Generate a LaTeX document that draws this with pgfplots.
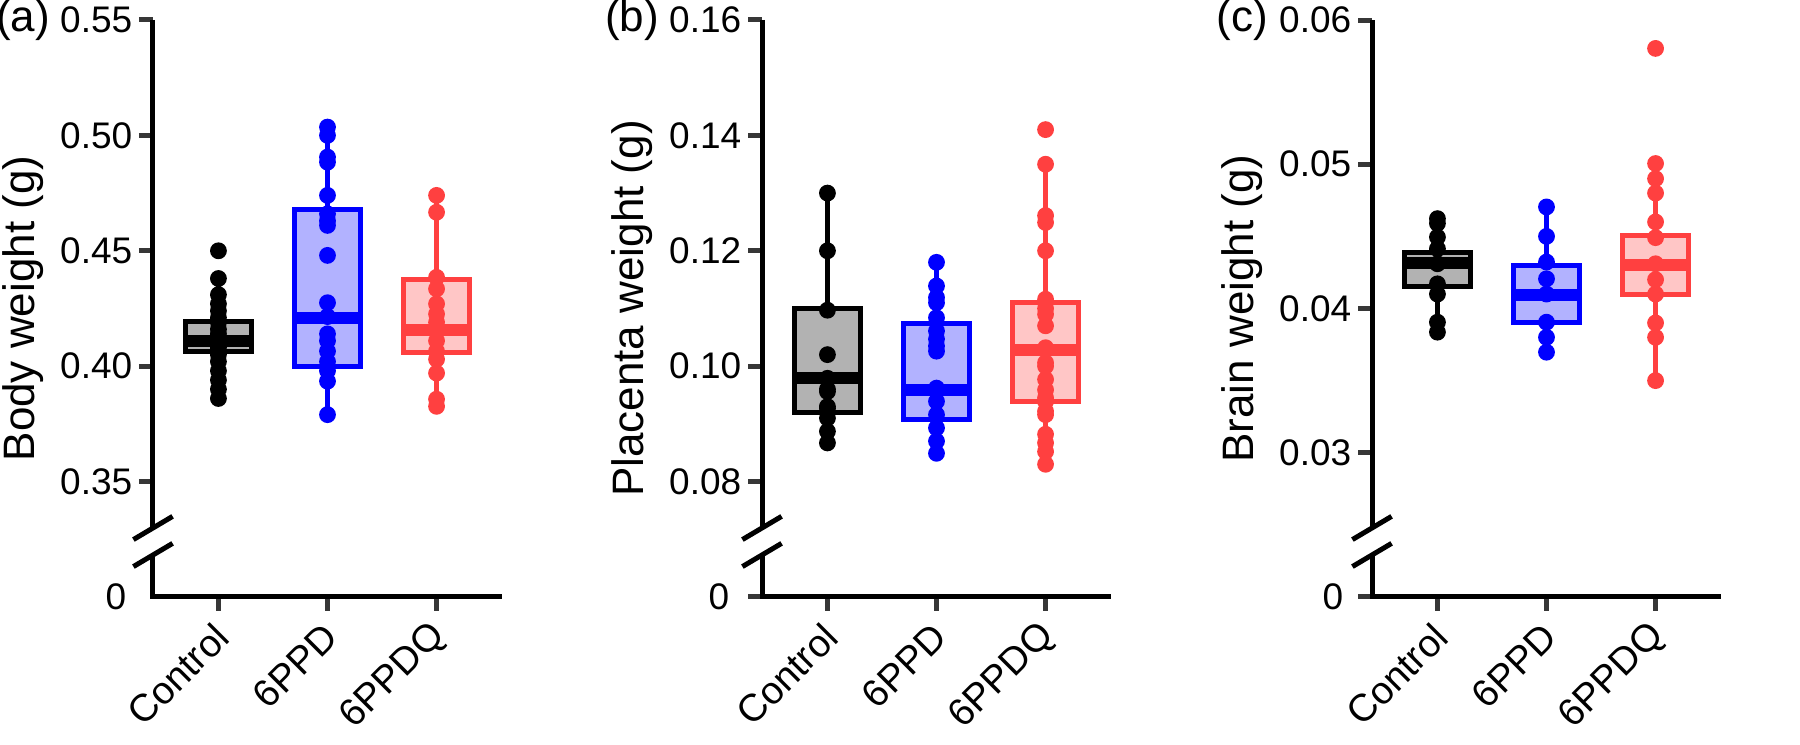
\documentclass[border=0pt]{standalone}
\usepackage{fontspec}
\setmainfont{Liberation Sans}
\usepackage{pgfplots}
\pgfplotsset{compat=1.18}
\definecolor{cblk}{RGB}{0,0,0}
\definecolor{cblu}{RGB}{0,0,255}
\definecolor{cred}{RGB}{255,64,64}
\definecolor{tickc}{RGB}{55,55,55}

\pgfplotsset{
 panel/.style={
  scale only axis, width=87.25pt, height=144.25pt,
  xmin=0.4, xmax=3.6,
  axis x line*=bottom, axis y line*=left,
  axis line style={draw=none},
  tick align=outside, major tick length=3.5pt,
  every tick/.style={line width=1.25pt, tickc},
  scaled y ticks=false,
  xtick={1,2,3}, xticklabels={Control,6PPD,6PPDQ},
  xticklabel style={rotate=45, anchor=east, xshift=0.6pt, yshift=-4pt, font=\fontsize{9.6}{11}\selectfont},
  yticklabel style={inner sep=1.5pt, font=\fontsize{9.25}{11}\selectfont},
  every axis y label/.style={at={([xshift=-32.5pt]axis description cs:0,0.5)}, rotate=90, anchor=center, font=\fontsize{11}{13}\selectfont},
  clip=false,
 },
 pts/.style={only marks, mark=*, mark size=1.9pt, color=#1, mark options={fill=#1, draw=#1}},
}
% box: #1 left, #2 centre, #3 right, #4 colour, #5 low whisker, #6 Q1, #7 median, #8 Q3, #9 high whisker
\newcommand{\bxp}[9]{%
 \addplot[draw=#4, line width=1.25pt] coordinates {(#2,#5)(#2,#6)};
 \addplot[draw=#4, line width=1.25pt] coordinates {(#2,#8)(#2,#9)};
 \addplot[draw=#4, fill=#4!30, line width=1.25pt] coordinates {(#1,#6)(#3,#6)(#3,#8)(#1,#8)} -- cycle;
 \addplot[draw=#4, line width=3pt] coordinates {(#1,#7)(#3,#7)};
}
\newcommand{\brk}[1]{%
 \draw[line width=1.25pt] (axis description cs:0,1) -- (axis description cs:0,0.1196);
 \draw[line width=1.25pt] (axis description cs:0,0.0728) -- (axis description cs:0,0) -- (axis description cs:1,0);
 \draw[line width=1.25pt] ([xshift=-4.9pt,yshift=-2.9pt]axis description cs:0,0.1196) -- ([xshift=4.9pt,yshift=2.9pt]axis description cs:0,0.1196);
 \draw[line width=1.25pt] ([xshift=-4.9pt,yshift=-2.9pt]axis description cs:0,0.0728) -- ([xshift=4.9pt,yshift=2.9pt]axis description cs:0,0.0728);
 \node[font=\fontsize{11}{13}\selectfont, anchor=center] at ([xshift=-32.5pt]axis description cs:0,1) {(#1)};
}

\begin{document}
\begin{tikzpicture}
\useasboundingbox (-38.25pt,-37pt) rectangle (411.75pt,149.25pt);

% ---------------- (a) Body weight ----------------
\begin{axis}[panel, at={(0pt,0pt)}, anchor=south west,
  ymin=0.30, ymax=0.55,
  ytick={0.35,0.40,0.45,0.50,0.55},
  yticklabels={0.35,0.40,0.45,0.50,0.55},
  extra y ticks={0.30}, extra y tick labels={0},
  extra y tick style={major tick length=0pt, yticklabel style={xshift=-5pt}},
  ylabel={Body weight (g)}]
\bxp{0.7}{1}{1.3}{cblk}{0.390}{0.4065}{0.411}{0.4193}{0.438}
\bxp{1.7}{2}{2.3}{cblu}{0.379}{0.400}{0.421}{0.468}{0.504}
\bxp{2.7}{3}{3.3}{cred}{0.3826}{0.406}{0.4157}{0.4377}{0.474}
\addplot[pts=cblk] coordinates {(1,0.450)(1,0.438)(1,0.431)(1,0.427)(1,0.424)(1,0.421)(1,0.419)(1,0.416)(1,0.414)(1,0.412)(1,0.410)(1,0.408)(1,0.405)(1,0.402)(1,0.398)(1,0.394)(1,0.390)(1,0.386)};
\addplot[pts=cblu] coordinates {(2,0.5036)(2,0.500)(2,0.4906)(2,0.4884)(2,0.474)(2,0.466)(2,0.463)(2,0.461)(2,0.448)(2,0.4275)(2,0.4215)(2,0.414)(2,0.411)(2,0.4065)(2,0.402)(2,0.398)(2,0.3935)(2,0.379)};
\addplot[pts=cred] coordinates {(3,0.474)(3,0.4667)(3,0.4385)(3,0.4335)(3,0.427)(3,0.4226)(3,0.419)(3,0.415)(3,0.411)(3,0.4065)(3,0.403)(3,0.397)(3,0.3857)(3,0.3826)};
\brk{a}
\end{axis}

% ---------------- (b) Placenta weight ----------------
\begin{axis}[panel, at={(152.25pt,0pt)}, anchor=south west,
  ymin=0.06, ymax=0.16,
  ytick={0.08,0.10,0.12,0.14,0.16},
  yticklabels={0.08,0.10,0.12,0.14,0.16},
  extra y ticks={0.06}, extra y tick labels={0},
  extra y tick style={yticklabel style={xshift=-3pt}},
  ylabel={Placenta weight (g)}]
\bxp{0.7}{1}{1.3}{cblk}{0.0867}{0.092}{0.0979}{0.110}{0.130}
\bxp{1.7}{2}{2.3}{cblu}{0.0849}{0.0908}{0.0958}{0.1074}{0.118}
\bxp{2.7}{3}{3.3}{cred}{0.083}{0.0938}{0.1028}{0.111}{0.135}
\addplot[pts=cblk] coordinates {(1,0.130)(1,0.120)(1,0.1097)(1,0.102)(1,0.0979)(1,0.096)(1,0.0956)(1,0.093)(1,0.0927)(1,0.091)(1,0.0887)(1,0.0867)};
\addplot[pts=cblu] coordinates {(2,0.118)(2,0.1139)(2,0.1119)(2,0.111)(2,0.1084)(2,0.1061)(2,0.1047)(2,0.1035)(2,0.1026)(2,0.0962)(2,0.0958)(2,0.0939)(2,0.0916)(2,0.0893)(2,0.087)(2,0.0849)};
\addplot[pts=cred] coordinates {(3,0.141)(3,0.135)(3,0.1261)(3,0.1249)(3,0.120)(3,0.1116)(3,0.110)(3,0.109)(3,0.107)(3,0.1032)(3,0.1006)(3,0.100)(3,0.0977)(3,0.0959)(3,0.0945)(3,0.0939)(3,0.0922)(3,0.0916)(3,0.0882)(3,0.0867)(3,0.0852)(3,0.083)};
\brk{b}
\end{axis}

% ---------------- (c) Brain weight ----------------
\begin{axis}[panel, at={(304.75pt,0pt)}, anchor=south west,
  ymin=0.02, ymax=0.06,
  ytick={0.03,0.04,0.05,0.06},
  yticklabels={0.03,0.04,0.05,0.06},
  extra y ticks={0.02}, extra y tick labels={0},
  extra y tick style={yticklabel style={xshift=-2pt}},
  ylabel={Brain weight (g)}]
\bxp{0.7}{1}{1.3}{cblk}{0.03836}{0.0415}{0.04317}{0.0439}{0.04623}
\bxp{1.7}{2}{2.3}{cblu}{0.03697}{0.0390}{0.04097}{0.04299}{0.04704}
\bxp{2.7}{3}{3.3}{cred}{0.035}{0.0410}{0.04299}{0.04505}{0.05005}
\addplot[pts=cblk] coordinates {(1,0.04623)(1,0.0459)(1,0.04495)(1,0.04414)(1,0.0431)(1,0.04171)(1,0.0410)(1,0.03905)(1,0.03836)};
\addplot[pts=cblu] coordinates {(2,0.04704)(2,0.045)(2,0.04322)(2,0.04206)(2,0.0410)(2,0.03905)(2,0.038)(2,0.03697)};
\addplot[pts=cred] coordinates {(3,0.05803)(3,0.05005)(3,0.049)(3,0.048)(3,0.046)(3,0.04491)(3,0.0431)(3,0.042)(3,0.041)(3,0.039)(3,0.038)(3,0.035)};
\brk{c}
\end{axis}
\end{tikzpicture}
\end{document}
